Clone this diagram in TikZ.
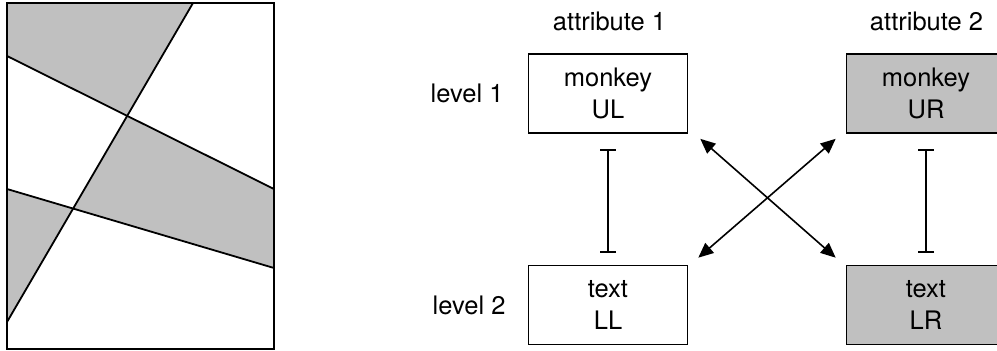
\documentclass[tikz,border=0pt]{standalone}
\usepackage{fontspec}
\setmainfont{TeX Gyre Heros}
\usetikzlibrary{arrows.meta}
\definecolor{shade}{RGB}{192,192,192}
\begin{document}
\begin{tikzpicture}[x=1pt,y=-1pt,
  txt/.style={font=\fontsize{25.5}{32}\selectfont, inner sep=0pt},
  cell/.style={txt, draw, line width=1.6pt, minimum width=159pt,
               minimum height=79pt, align=center},
  grey/.style={fill=shade},
  cut/.style={line width=1.8pt},
  swap/.style={line width=1.6pt, {Triangle[length=15pt,width=13pt]}-{Triangle[length=15pt,width=13pt]}},
  span/.style={line width=1.7pt, {Bar[width=16pt]}-{Bar[width=16pt]}}
]
\useasboundingbox (0,0) rectangle (997,351);
\clip (0,0) rectangle (997,351);

% ---- partitioned rectangle ----
\coordinate (tl) at (7,3);
\coordinate (br) at (274,349);
\coordinate (a1) at (7,56);   \coordinate (a2) at (274,189);
\coordinate (b1) at (7,189);  \coordinate (b2) at (274,268);
\coordinate (c1) at (7,322);  \coordinate (c2) at (193,3);
\coordinate (pa) at (intersection of a1--a2 and c1--c2);
\coordinate (pb) at (intersection of b1--b2 and c1--c2);

\fill[grey] (tl) -- (c2) -- (pa) -- (a1) -- cycle;
\fill[grey] (pa) -- (a2) -- (b2) -- (pb) -- cycle;
\fill[grey] (b1) -- (pb) -- (c1) -- cycle;
\draw[cut] (a1) -- (a2);
\draw[cut] (b1) -- (b2);
\draw[cut] (c1) -- (c2);
\draw[cut] (tl) rectangle (br);

% ---- 2x2 layout ----
\node[cell] (UL) at (608,93.5) {monkey\\UL};
\node[cell, grey] (UR) at (926,93.5) {monkey\\UR};
\node[cell] (LL) at (608,305) {text\\LL};
\node[cell, grey] (LR) at (926,305) {text\\LR};

\node[txt] (att1) at (609.5,21) {attribute 1};
\node[txt] (att2) at (926.5,21) {attribute 2};
\node[txt, anchor=east] (lev1) at ([xshift=-24pt]UL.west) {level 1};
\node[txt, anchor=east] (lev2) at ([xshift=-22pt]LL.west) {level 2};

% ---- connectors ----
\draw[span, shorten <=15pt, shorten >=12pt] (UL.south) -- (LL.north);
\draw[span, shorten <=15pt, shorten >=12pt] (UR.south) -- (LR.north);
\draw[swap] ([shift={(12pt,-5pt)}]UL.south east) -- ([shift={(-10pt,7pt)}]LR.north west);
\draw[swap] ([shift={(-10pt,-5pt)}]UR.south west) -- ([shift={(10pt,7pt)}]LL.north east);
\end{tikzpicture}
\end{document}
